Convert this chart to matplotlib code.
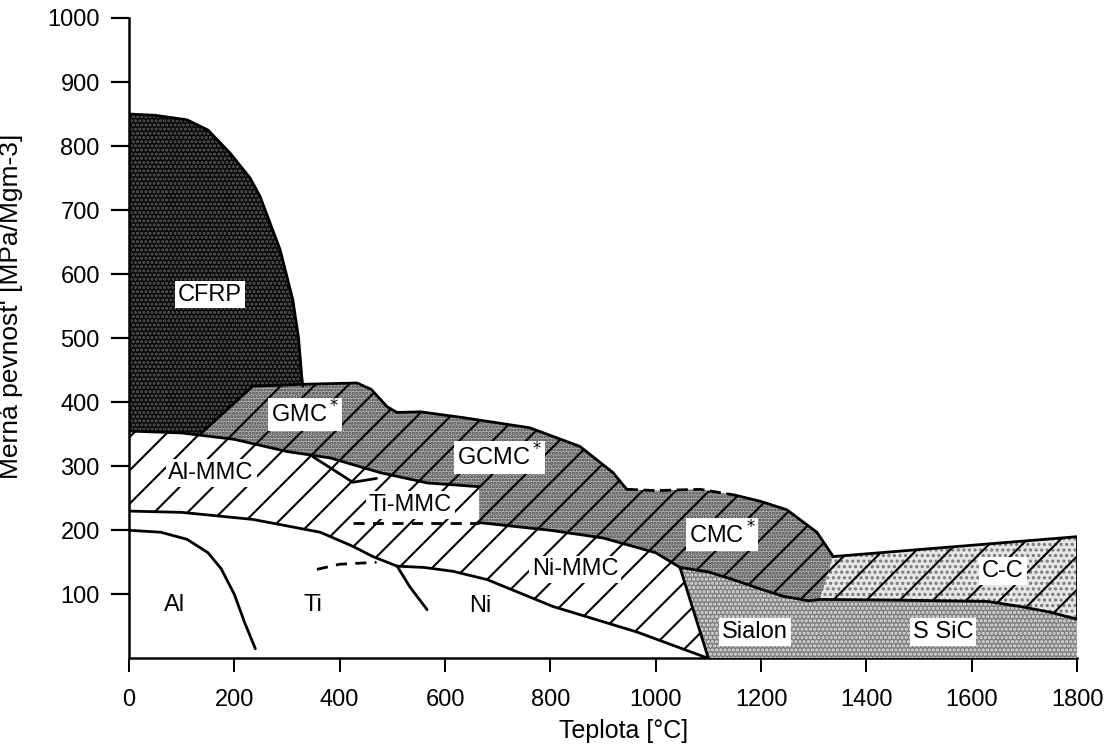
import matplotlib.pyplot as plt
import numpy as np

plt.rcParams['font.family'] = ['Liberation Sans', 'DejaVu Sans']
plt.rcParams['hatch.linewidth'] = 1.5

# hranice oblastí: teplota [°C] a měrná pevnost [MPa/Mgm-3]
cfrp_t = [0, 50, 110, 150, 192, 230, 249, 287, 311, 322, 328, 330]
cfrp_s = [850, 848, 841, 825, 789, 750, 721, 638, 560, 500, 440, 425]

almmc_top_t = [0, 100, 200, 300, 382, 477, 566, 665]
almmc_top_s = [355, 352, 342, 323, 313, 290, 274, 268]

gmc_top_t = [135, 235, 330, 433, 460, 490, 509]
gmc_top_s = [350, 425, 428, 430, 420, 393, 384]

gcmc_top_t = [509, 553, 634, 761, 856, 919, 945]
gcmc_top_s = [384, 385, 376, 360, 331, 290, 264]

cmc_top_t = [945, 1000, 1084, 1150, 1200, 1249, 1306, 1337]
cmc_top_s = [264, 262, 264, 255, 245, 232, 197, 159]

cmc_bot_t = [1046, 1000, 900, 800, 665, 665]
cmc_bot_s = [142, 165, 188, 200, 212, 268]

cc_top_t = [1337, 1800]
cc_top_s = [159, 190]

ssic_top_t = [1046, 1100, 1147, 1200, 1242, 1290, 1312, 1450, 1629, 1692, 1750, 1800]
ssic_top_s = [142, 135, 123, 108, 97, 90, 92, 91, 89, 81, 72, 61]

sialon_left_t = [1046, 1100]
sialon_left_s = [142, 0]

mmc_bot_t = [0, 100, 235, 363, 425, 463, 509]
mmc_bot_s = [230, 228, 217, 197, 175, 159, 144]

ni_t = [509, 560, 615, 680, 805, 965, 1100]
ni_s = [144, 142, 136, 123, 81, 41, 0]

al_t = [0, 60, 110, 150, 175, 200, 220, 240]
al_s = [200, 197, 186, 165, 140, 100, 55, 15]

ti_t = [509, 533, 566]
ti_s = [144, 112, 76]

ti_dash_t = [357, 400, 470]
ti_dash_s = [139, 147, 150]

timmc_dash_t = [425, 665]
timmc_dash_s = [212, 212]

timmc_edge_t = [349, 425, 470]
timmc_edge_s = [315, 275, 281]

popisky = ['CFRP', 'GMC$^*$', 'GCMC$^*$', 'Al-MMC', 'Ti-MMC', 'Ni-MMC',
           'CMC$^*$', 'C-C', 'Sialon', 'S SiC', 'Al', 'Ti', 'Ni']
popisky_t = [154, 334, 704, 156, 534, 847, 1126, 1659, 1188, 1545, 87, 349, 666]
popisky_s = [568, 381, 314, 289, 240, 139, 193, 136, 41, 41, 84, 84, 81]
popisky_box = [True, True, True, True, True, True, True, True, True, True, False, False, False]

fig = plt.figure(figsize=(11.07, 7.49), dpi=100)
ax = fig.add_axes([0.1165, 0.121, 0.8565, 0.855])

# MMC - šrafovaná oblast
mmc_t = almmc_top_t + [1000, 1046] + sialon_left_t[1:] + ni_t[::-1][1:] + mmc_bot_t[::-1][1:]
mmc_s = almmc_top_s + [230, 142] + sialon_left_s[1:] + ni_s[::-1][1:] + mmc_bot_s[::-1][1:]
ax.fill(mmc_t, mmc_s, facecolor='white', edgecolor='black', hatch='/', linewidth=0, zorder=1)

# CFRP
cf_t = cfrp_t + [235, 135, 100, 0]
cf_s = cfrp_s + [425, 350, 352, 355]
ax.fill(cf_t, cf_s, facecolor='#080808', edgecolor='#5a5a5a', hatch='....', linewidth=0, zorder=2)

# GMC, GCMC, CMC
comp_t = gmc_top_t + gcmc_top_t[1:] + cmc_top_t[1:] + [1312] + ssic_top_t[:6][::-1] + cmc_bot_t[1:] + [566, 477, 382, 300, 200, 135]
comp_s = gmc_top_s + gcmc_top_s[1:] + cmc_top_s[1:] + [92] + ssic_top_s[:6][::-1] + cmc_bot_s[1:] + [274, 290, 313, 323, 342, 350]
ax.fill(comp_t, comp_s, facecolor='#b4b4b4', edgecolor='#444444', hatch='.....', linewidth=0, zorder=3)
ax.fill(comp_t, comp_s, facecolor='none', edgecolor='black', hatch='/', linewidth=0, zorder=3)

# C-C
cc_t = cc_top_t + ssic_top_t[::-1][:6] + [1337]
cc_s = cc_top_s + ssic_top_s[::-1][:6] + [159]
ax.fill(cc_t, cc_s, facecolor='#e6e6e6', edgecolor='#777777', hatch='...', linewidth=0, zorder=3)
ax.fill(cc_t, cc_s, facecolor='none', edgecolor='black', hatch='/', linewidth=0, zorder=3)

# Sialon, S SiC
si_t = ssic_top_t + [1800, 1100]
si_s = ssic_top_s + [0, 0]
ax.fill(si_t, si_s, facecolor='#808080', edgecolor='#e0e0e0', hatch='....', linewidth=0, zorder=3)

# obrysy
lw = 2.0
for t, s in [(cfrp_t, cfrp_s), (almmc_top_t, almmc_top_s), (gmc_top_t, gmc_top_s),
             (gcmc_top_t, gcmc_top_s), (cmc_top_t[3:], cmc_top_s[3:]), (cmc_bot_t[:5], cmc_bot_s[:5]),
             (cc_top_t, cc_top_s), (ssic_top_t, ssic_top_s), (sialon_left_t, sialon_left_s),
             (mmc_bot_t, mmc_bot_s), (ni_t, ni_s), (al_t, al_s), (ti_t, ti_s),
             (timmc_edge_t, timmc_edge_s), ([1800, 1800], [61, 190])]:
    ax.plot(t, s, color='black', linewidth=lw, zorder=5, solid_capstyle='round')
ax.plot(cmc_top_t[:4], cmc_top_s[:4], color='black', linewidth=lw, linestyle=(0, (4, 2)), zorder=5)
ax.plot(ti_dash_t, ti_dash_s, color='black', linewidth=lw, linestyle=(0, (4, 3)), zorder=5)
ax.plot(timmc_dash_t, timmc_dash_s, color='black', linewidth=lw, linestyle=(0, (4, 3)), zorder=5)

for txt, t, s, box in zip(popisky, popisky_t, popisky_s, popisky_box):
    kw = {}
    if box:
        kw['bbox'] = dict(facecolor='white', edgecolor='none', pad=2)
    ax.text(t, s, txt, fontsize=17, ha='center', va='center', zorder=6, **kw)

ax.set_xlim(0, 1800)
ax.set_ylim(0, 1000)
ax.set_xticks(np.arange(0, 1801, 200))
ax.set_yticks(np.arange(100, 1001, 100))
ax.spines['top'].set_visible(False)
ax.spines['right'].set_visible(False)
ax.spines['left'].set_linewidth(1.8)
ax.spines['bottom'].set_linewidth(1.8)
ax.tick_params(axis='y', length=13, width=1.6, labelsize=17, pad=8)
ax.tick_params(axis='x', length=10, width=1.4, labelsize=17, pad=12)
ax.set_xlabel('Teplota [°C]', fontsize=18)
ax.set_ylabel("Merná pevnost' [MPa/Mgm-3]", fontsize=19)
ax.xaxis.set_label_coords(0.522, -0.095)
ax.yaxis.set_label_coords(-0.112, 0.55)

fig.savefig('out.png', dpi=100)
